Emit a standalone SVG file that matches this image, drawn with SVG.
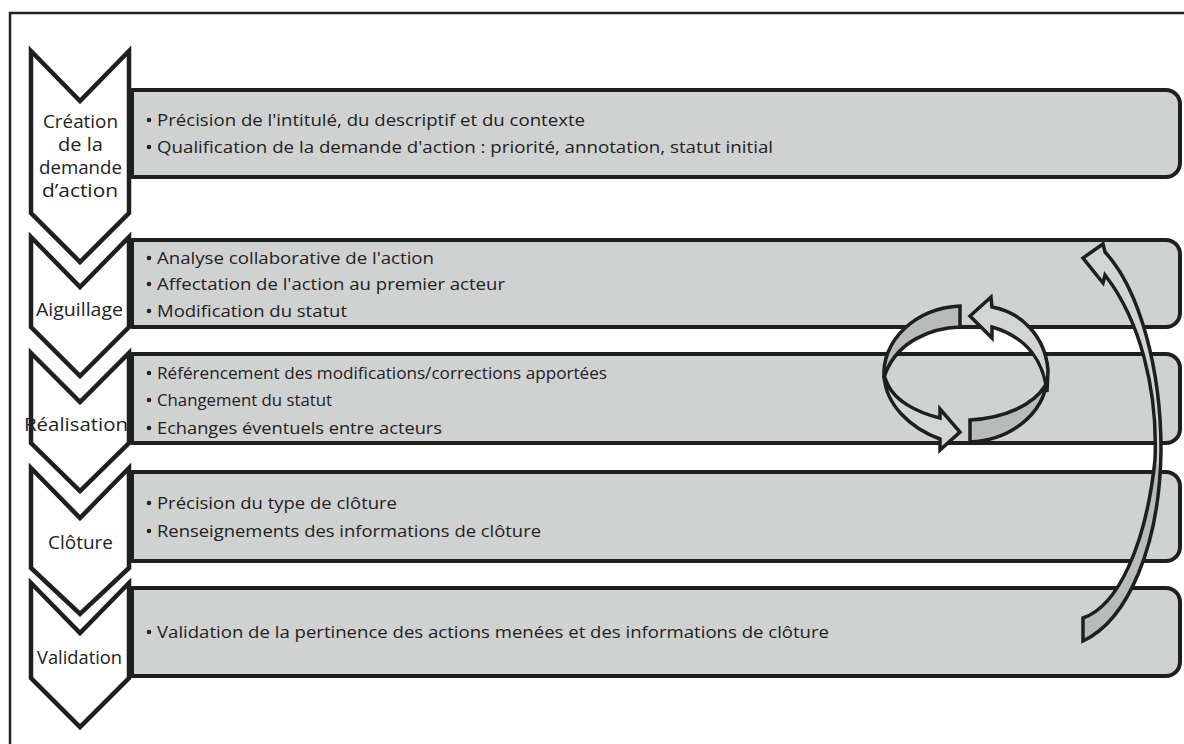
<svg xmlns="http://www.w3.org/2000/svg" width="1184" height="744" viewBox="0 0 1184 744">
<defs>
<style>
.frame{fill:none;stroke:#1e1f21;stroke-width:2.5}
.box{fill:#d0d1d1;stroke:#1e1f21;stroke-width:4;stroke-linejoin:round}
.chev{fill:#ffffff;stroke:#1e1f21;stroke-width:4.5;stroke-linejoin:miter}
.lbl{font-family:"Open Sans","Liberation Sans",sans-serif;font-size:17.5px;fill:#222}
.txt{font-family:"Open Sans","Liberation Sans",sans-serif;font-size:16.5px;fill:#222}
.dot{fill:#222}
.dark{fill:#b9baba;stroke:#1e1f21;stroke-width:3.5;stroke-linejoin:miter}
.light{fill:#d3d4d4;stroke:#1e1f21;stroke-width:3.5;stroke-linejoin:miter}
</style>
<linearGradient id="retFill" gradientUnits="userSpaceOnUse" x1="0" y1="240" x2="0" y2="645">
<stop offset="0" stop-color="#d3d4d4"/>
<stop offset="0.55" stop-color="#d3d4d4"/>
<stop offset="0.56" stop-color="#b9baba"/>
<stop offset="1" stop-color="#b9baba"/>
</linearGradient>
</defs>
<rect width="1184" height="744" fill="#ffffff"/>
<rect class="frame" x="10" y="13" width="1200" height="800"/>

<g id="step1">
<path class="box" d="M132,90 H1166 A14,14 0 0 1 1180,104 V163 A14,14 0 0 1 1166,177 H132 Z"/>
<polygon class="chev" points="31,51 80,101 129,51 129,213 80,262 31,213"/>
<text class="lbl" x="43" y="128" textLength="75" lengthAdjust="spacingAndGlyphs">Création</text>
<text class="lbl" x="58" y="151" textLength="45" lengthAdjust="spacingAndGlyphs">de la</text>
<text class="lbl" x="39" y="174" textLength="83" lengthAdjust="spacingAndGlyphs">demande</text>
<text class="lbl" x="42" y="197" textLength="76" lengthAdjust="spacingAndGlyphs">d’action</text>
<circle class="dot" cx="149" cy="120" r="2.3"/><text class="txt" x="157" y="126" textLength="428" lengthAdjust="spacingAndGlyphs">Précision de l'intitulé, du descriptif et du contexte</text>
<circle class="dot" cx="149" cy="147" r="2.3"/><text class="txt" x="157" y="153" textLength="616" lengthAdjust="spacingAndGlyphs">Qualification de la demande d'action : priorité, annotation, statut initial</text>
</g>

<g id="step2">
<path class="box" d="M132,240 H1166 A14,14 0 0 1 1180,254 V313 A14,14 0 0 1 1166,327 H132 Z"/>
<polygon class="chev" points="31,237 80,287 129,237 129,327 80,376 31,327"/>
<text class="lbl" x="36" y="316" textLength="87" lengthAdjust="spacingAndGlyphs">Aiguillage</text>
<circle class="dot" cx="149" cy="258" r="2.3"/><text class="txt" x="157" y="264" textLength="277" lengthAdjust="spacingAndGlyphs">Analyse collaborative de l'action</text>
<circle class="dot" cx="149" cy="284" r="2.3"/><text class="txt" x="157" y="290" textLength="348" lengthAdjust="spacingAndGlyphs">Affectation de l'action au premier acteur</text>
<circle class="dot" cx="149" cy="311" r="2.3"/><text class="txt" x="157" y="317" textLength="190" lengthAdjust="spacingAndGlyphs">Modification du statut</text>
</g>

<g id="step3">
<path class="box" d="M132,354 H1166 A14,14 0 0 1 1180,368 V429 A14,14 0 0 1 1166,443 H132 Z"/>
<polygon class="chev" points="31,353 80,402 129,353 129,443 80,491 31,443"/>
<text class="lbl" x="24" y="431" textLength="104" lengthAdjust="spacingAndGlyphs">Réalisation</text>
<circle class="dot" cx="149" cy="373" r="2.3"/><text class="txt" x="157" y="379" textLength="450" lengthAdjust="spacingAndGlyphs">Référencement des modifications/corrections apportées</text>
<circle class="dot" cx="149" cy="400" r="2.3"/><text class="txt" x="157" y="406" textLength="175" lengthAdjust="spacingAndGlyphs">Changement du statut</text>
<circle class="dot" cx="149" cy="428" r="2.3"/><text class="txt" x="157" y="434" textLength="285" lengthAdjust="spacingAndGlyphs">Echanges éventuels entre acteurs</text>
</g>

<g id="step4">
<path class="box" d="M132,472 H1166 A14,14 0 0 1 1180,486 V547 A14,14 0 0 1 1166,561 H132 Z"/>
<polygon class="chev" points="31,468 80,518 129,468 129,568 80,614 31,568"/>
<text class="lbl" x="48" y="549" textLength="65" lengthAdjust="spacingAndGlyphs">Clôture</text>
<circle class="dot" cx="149" cy="503" r="2.3"/><text class="txt" x="157" y="509" textLength="240" lengthAdjust="spacingAndGlyphs">Précision du type de clôture</text>
<circle class="dot" cx="149" cy="531" r="2.3"/><text class="txt" x="157" y="537" textLength="384" lengthAdjust="spacingAndGlyphs">Renseignements des informations de clôture</text>
</g>

<g id="step5">
<path class="box" d="M132,588 H1166 A14,14 0 0 1 1180,602 V662 A14,14 0 0 1 1166,676 H132 Z"/>
<polygon class="chev" points="31,583 80,633 129,583 129,678 80,727 31,678"/>
<text class="lbl" x="37" y="664" textLength="85" lengthAdjust="spacingAndGlyphs">Validation</text>
<circle class="dot" cx="149" cy="632" r="2.3"/><text class="txt" x="157" y="638" textLength="672" lengthAdjust="spacingAndGlyphs">Validation de la pertinence des actions menées et des informations de clôture</text>
</g>

<g id="connectors">
<g id="cycle">
<path class="dark" d="M884,378 A81,68 0 0 1 960,306 L960,327 C930,328 898,342 886,372 Z"/>
<path class="dark" d="M1047,380 A81,68 0 0 1 970,442 L970,420 C1005,418 1033,405 1045,386 Z"/>
<path class="light" d="M970,316 L991,297 L992,307 C1020,312 1045,335 1048,370 L1047,392 C1044,365 1030,338 992,327 L992,338 Z"/>
<path class="light" d="M884,376 C886,405 910,428 940,439 L940,450 L960,432 L940,409 L940,418 C915,412 895,400 888,385 Z"/>
</g>
<path id="return" fill="url(#retFill)" stroke="#1e1f21" stroke-width="3.5" stroke-linejoin="miter" d="M1105,252 C1140,290 1161,370 1161,450 C1160,545 1128,620 1083,641 L1083,618 C1118,606 1146,545 1155,460 C1158,390 1140,320 1105,275 L1103,283 L1083,258 L1103,244 Z"/>
</g>
</svg>
